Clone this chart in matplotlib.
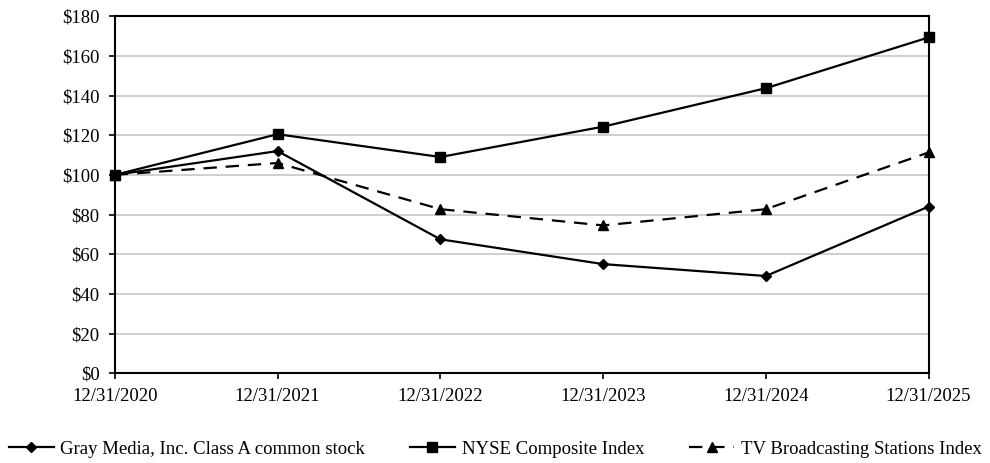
import matplotlib.pyplot as plt

# cumulative total return, $100 invested at 12/31/2020
years = ["12/31/2020", "12/31/2021", "12/31/2022", "12/31/2023", "12/31/2024", "12/31/2025"]
gray_media = [100, 112, 67.5, 55, 49, 84]
nyse_composite = [100, 120.5, 109, 124.3, 143.7, 169.3]
tv_broadcasting = [100, 106, 82.7, 74.5, 82.7, 111.3]

y_ticks = list(range(0, 181, 20))
y_labels = [f"${v}" for v in y_ticks]

plt.rcParams["font.family"] = ["Liberation Serif", "DejaVu Serif"]
plt.rcParams["font.size"] = 13.5

fig = plt.figure(figsize=(9.9, 4.63), dpi=100)
ax = fig.add_axes([0.116, 0.194, 0.822, 0.771])

x = list(range(len(years)))
ax.plot(x, gray_media, color="black", lw=1.6, marker="D", ms=5.5, clip_on=False,
        label="Gray Media, Inc. Class A common stock")
ax.plot(x, nyse_composite, color="black", lw=1.6, marker="s", ms=7.5, clip_on=False,
        label="NYSE Composite Index")
ax.plot(x, tv_broadcasting, color="black", lw=1.6, marker="^", ms=6.5, clip_on=False,
        ls=(0, (6, 4)), label="TV Broadcasting Stations Index")

ax.set_xlim(0, len(years) - 1)
ax.set_ylim(0, 180)
ax.set_xticks(x)
ax.set_xticklabels(years)
ax.set_yticks(y_ticks)
ax.set_yticklabels(y_labels)
ax.yaxis.grid(True, color="#cccccc", lw=1.3)
ax.set_axisbelow(True)

for side in ["left", "right", "top", "bottom"]:
    ax.spines[side].set_linewidth(1.5)
ax.tick_params(direction="out", length=4, width=1.2, colors="black")
ax.tick_params(axis="x", pad=7)
ax.tick_params(axis="y", pad=7)

fig.legend(loc="center", bbox_to_anchor=(0.5, 0.03), ncol=3, frameon=False,
           handlelength=2.4, columnspacing=2.4, handletextpad=0.35, fontsize=13.5)

fig.savefig("out.png", dpi=100)
